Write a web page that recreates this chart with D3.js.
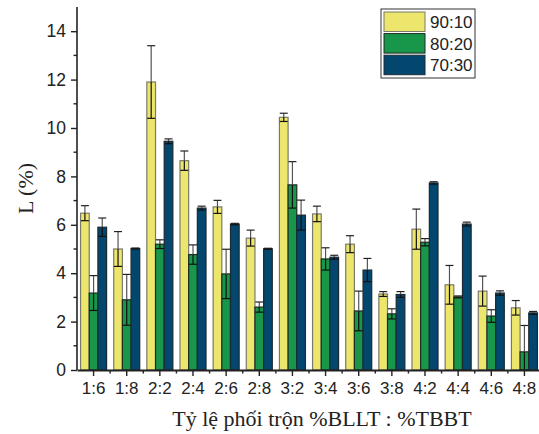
<!DOCTYPE html>
<html>
<head>
<meta charset="utf-8">
<script src="https://cdn.jsdelivr.net/npm/d3@7"></script>
<style>
  body { margin: 0; background: #fff; }
  svg { display: block; }
  .serif { font-family: "Liberation Serif", "DejaVu Serif", "Times New Roman", serif; }
  .sans { font-family: "Liberation Sans", Arial, "DejaVu Sans", sans-serif; }
</style>
</head>
<body>
<svg id="chart"></svg>
<script>
const WIDTH = 539, HEIGHT = 434;

// categories and series
const categories = ["1:6", "1:8", "2:2", "2:4", "2:6", "2:8", "3:2", "3:4", "3:6", "3:8", "4:2", "4:4", "4:6", "4:8"];
const seriesNames = ["90:10", "80:20", "70:30"];
const seriesColors = ["#ede66d", "#18964a", "#03476f"];
const seriesStroke = ["#7a7a6a", "#1f2a22", "#1c2a33"];

const val9010 = [6.48, 5.0, 11.9, 8.65, 6.74, 5.45, 10.44, 6.45, 5.2, 3.14, 5.82, 3.52, 3.26, 2.57];
const err9010 = [0.31, 0.72, 1.5, 0.4, 0.27, 0.33, 0.17, 0.32, 0.35, 0.1, 0.83, 0.8, 0.62, 0.3];
const val8020 = [3.18, 2.9, 5.2, 4.77, 3.97, 2.6, 7.65, 4.59, 2.44, 2.32, 5.28, 3.02, 2.23, 0.75];
const err8020 = [0.72, 1.05, 0.18, 0.4, 1.02, 0.21, 0.96, 0.46, 0.82, 0.21, 0.15, 0.04, 0.26, 1.09];
const val7030 = [5.9, 5.02, 9.45, 6.69, 6.03, 5.01, 6.4, 4.66, 4.13, 3.12, 7.73, 6.03, 3.18, 2.36];
const err7030 = [0.38, 0.02, 0.1, 0.08, 0.03, 0.02, 0.62, 0.08, 0.48, 0.12, 0.05, 0.08, 0.09, 0.06];

const values = [val9010, val8020, val7030];
const errors = [err9010, err8020, err7030];

const margin = { top: 7, left: 77, bottom: 64, right: -2 };

const svg = d3.select("#chart").attr("width", WIDTH).attr("height", HEIGHT);

const x = d3.scaleBand()
    .domain(categories)
    .range([margin.left, WIDTH - margin.right])
    .paddingInner(0.215)
    .paddingOuter(0.1075);

const xs = d3.scaleBand()
    .domain(seriesNames)
    .range([0, x.bandwidth()]);

const y = d3.scaleLinear()
    .domain([0, 15])
    .range([HEIGHT - margin.bottom, margin.top]);

// bars
const bars = svg.append("g").attr("id", "bars");
seriesNames.forEach((s, si) => {
    bars.append("g")
        .selectAll("rect")
        .data(categories)
        .join("rect")
            .attr("x", d => x(d) + xs(s))
            .attr("y", (d, i) => y(values[si][i]))
            .attr("width", xs.bandwidth())
            .attr("height", (d, i) => y(0) - y(values[si][i]))
            .attr("fill", seriesColors[si])
            .attr("stroke", seriesStroke[si])
            .attr("stroke-width", 1.2);
});

// error bars
const errG = svg.append("g").attr("id", "errors");
seriesNames.forEach((s, si) => {
    categories.forEach((c, i) => {
        const cx = x(c) + xs(s) + xs.bandwidth() / 2;
        const v = values[si][i], e = errors[si][i];
        const top = y(v + e), mid = y(v), bot = y(Math.max(0, v - e));
        const capW = 4;
        errG.append("line")
            .attr("x1", cx).attr("x2", cx).attr("y1", top).attr("y2", mid)
            .attr("stroke", "#555").attr("stroke-width", 1.2);
        errG.append("line")
            .attr("x1", cx).attr("x2", cx).attr("y1", mid).attr("y2", bot)
            .attr("stroke", "#111").attr("stroke-width", 1.2);
        errG.append("line")
            .attr("x1", cx - capW).attr("x2", cx + capW).attr("y1", top).attr("y2", top)
            .attr("stroke", "#222").attr("stroke-width", 1.2);
        errG.append("line")
            .attr("x1", cx - capW).attr("x2", cx + capW).attr("y1", bot).attr("y2", bot)
            .attr("stroke", "#111").attr("stroke-width", 1.2);
    });
});

// y axis
const yAxis = svg.append("g")
    .attr("transform", `translate(${margin.left},0)`)
    .call(d3.axisLeft(y).tickValues(d3.range(0, 15, 2)).tickSize(6).tickSizeOuter(0).tickPadding(5));
yAxis.attr("font-family", null).attr("class", "sans");
yAxis.select(".domain").attr("stroke", "#222").attr("stroke-width", 1.6)
    .attr("d", `M0,${y(0)}V${y(15)}`);
yAxis.selectAll(".tick line").attr("stroke", "#222").attr("stroke-width", 1.4);
yAxis.selectAll(".tick text")
    .attr("font-size", 17.5)
    .attr("fill", "#222");
yAxis.selectAll(".minor")
    .data(d3.range(1, 15, 2))
    .join("line")
        .attr("x1", -3.5).attr("x2", 0)
        .attr("y1", d => y(d)).attr("y2", d => y(d))
        .attr("stroke", "#222").attr("stroke-width", 1.4);

// x axis
const xAxis = svg.append("g")
    .attr("transform", `translate(0,${y(0)})`)
    .call(d3.axisBottom(x).tickSize(6).tickSizeOuter(0).tickPadding(6));
xAxis.attr("font-family", null).attr("class", "sans");
xAxis.select(".domain").attr("stroke", "#222").attr("stroke-width", 2.2);
xAxis.selectAll(".tick line").attr("stroke", "#222").attr("stroke-width", 1.4);
xAxis.selectAll(".tick text")
    .attr("font-size", 17)
    .attr("fill", "#222");
xAxis.selectAll(".minor")
    .data(categories.slice(1))
    .join("line")
        .attr("x1", d => x(d) - x.step() * x.paddingInner() / 2)
        .attr("x2", d => x(d) - x.step() * x.paddingInner() / 2)
        .attr("y1", 0).attr("y2", 3.5)
        .attr("stroke", "#222").attr("stroke-width", 1.4);

// axis titles
svg.append("text")
    .attr("class", "serif")
    .attr("transform", `translate(33,${(y(0) + y(15)) / 2}) rotate(-90)`)
    .attr("text-anchor", "middle")
    .attr("font-size", 22)
    .attr("fill", "#222")
    .text("L (%)");

svg.append("text")
    .attr("class", "serif")
    .attr("x", 322)
    .attr("y", 426)
    .attr("text-anchor", "middle")
    .attr("font-size", 22)
    .attr("fill", "#222")
    .text("Tỷ lệ phối trộn %BLLT : %TBBT");

// legend
const legend = svg.append("g").attr("transform", "translate(381,9)");
legend.append("rect")
    .attr("width", 94).attr("height", 69)
    .attr("fill", "#fff").attr("stroke", "#333").attr("stroke-width", 1);
seriesNames.forEach((s, si) => {
    const row = legend.append("g").attr("transform", `translate(3,${3 + si * 21.6})`);
    row.append("rect")
        .attr("width", 41).attr("height", 19.5)
        .attr("fill", seriesColors[si])
        .attr("stroke", seriesStroke[si]).attr("stroke-width", 1);
    row.append("text")
        .attr("class", "sans")
        .attr("x", 46).attr("y", 16)
        .attr("font-size", 17)
        .attr("fill", "#222")
        .text(s);
});
</script>
</body>
</html>
